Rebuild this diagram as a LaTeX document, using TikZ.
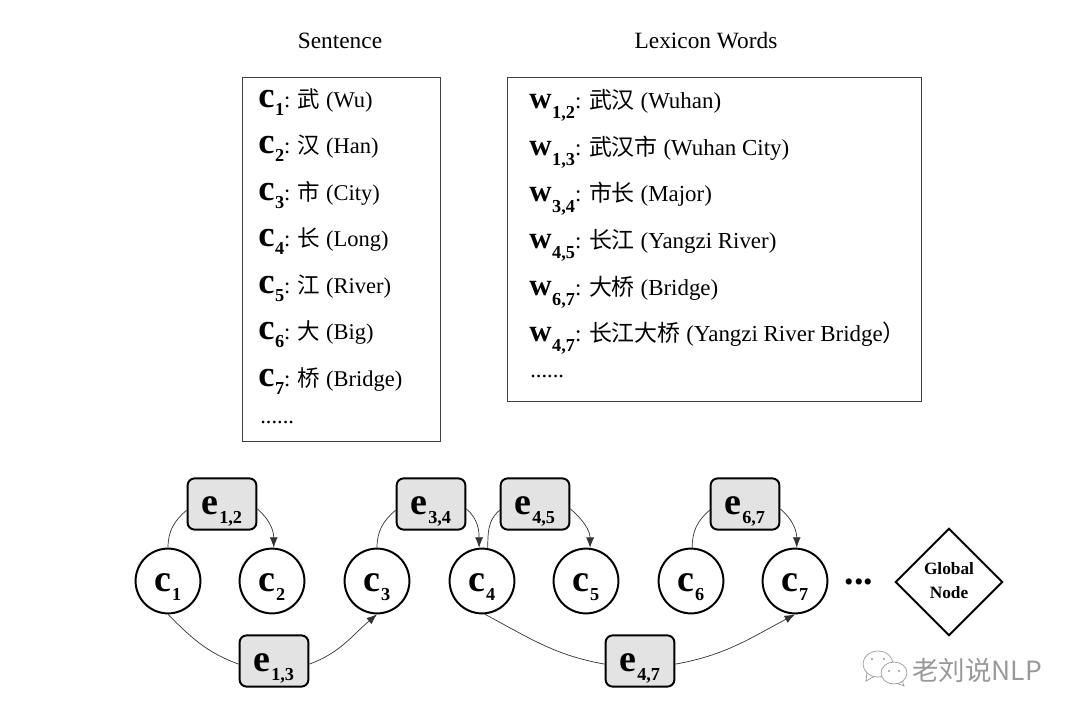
\documentclass[tikz,border=0pt]{standalone}
\usetikzlibrary{shapes.geometric,arrows.meta}
\usepackage{fontspec}
\setmainfont{Liberation Serif}
\newfontfamily\cjk{Noto Sans CJK SC}
\colorlet{edgefill}{black!11}
\colorlet{markgray}{black!40}
\newcommand{\bigsub}[4][6.5pt]{{\fontsize{#4}{#4}\selectfont\bfseries #2}\smash{\raisebox{-#1}{\fontsize{13}{13}\selectfont\bfseries\kern.4pt #3}}}
\newcommand{\listc}[1]{\bigsub[6pt]{c}{#1}{26}}
\newcommand{\listw}[1]{\bigsub[7.5pt]{w}{#1}{22}}
\newcommand{\hz}[1]{{\cjk #1}}
\tikzset{
  title/.style={font=\fontsize{16.6}{16.6}\selectfont},
  entry/.style={anchor=base west, inner sep=0pt, font=\fontsize{16}{16}\selectfont},
  wentry/.style={entry, font=\fontsize{16.3}{16.3}\selectfont},
  listbox/.style={draw=black!75, line width=.7pt},
  charnode/.style={circle, draw, line width=1.4pt, minimum size=1.62cm, inner sep=0pt, text height=15pt, text depth=0pt},
  edgenode/.style={draw, fill=edgefill, rounded corners=5pt, line width=1.4pt, minimum width=1.72cm, minimum height=1.28cm, inner sep=0pt, text height=15pt, text depth=0pt},
  link/.style={black!80, line width=.5pt},
  linkto/.style={black!80, line width=.5pt, -{Latex[length=2.6mm,width=2mm]}}
}
\begin{document}
\begin{tikzpicture}[x=0.025cm,y=-0.025cm]
\useasboundingbox (0,0) rectangle (1080,717);
% headings and the two lists
\node[title] (sent) at (340,41) {Sentence};
\node[title] (lex) at (706,41) {Lexicon Words};
\node[listbox, minimum width=4.95cm, minimum height=9.1cm] (sbox) at (341.5,259.5) {};
\node[listbox, minimum width=10.35cm, minimum height=8.1cm] (wbox) at (714.5,239.5) {};
\node[entry] (s1) at (258,107) {\listc{1}: \hz{武} (Wu)};
\node[entry] (s2) at (258,153.5) {\listc{2}: \hz{汉} (Han)};
\node[entry] (s3) at (258,200) {\listc{3}: \hz{市} (City)};
\node[entry] (s4) at (258,246.5) {\listc{4}: \hz{长} (Long)};
\node[entry] (s5) at (258,293) {\listc{5}: \hz{江} (River)};
\node[entry] (s6) at (258,339.5) {\listc{6}: \hz{大} (Big)};
\node[entry] (s7) at (258,386) {\listc{7}: \hz{桥} (Bridge)};
\node[entry] (s8) at (260,423) {......};
\node[wentry] (w1) at (529,108) {\listw{1,2}: \hz{武汉} (Wuhan)};
\node[wentry] (w2) at (529,155) {\listw{1,3}: \hz{武汉市} (Wuhan City)};
\node[wentry] (w3) at (529,201.5) {\listw{3,4}: \hz{市长} (Major)};
\node[wentry] (w4) at (529,248) {\listw{4,5}: \hz{长江} (Yangzi River)};
\node[wentry] (w5) at (529,295) {\listw{6,7}: \hz{大桥} (Bridge)};
\node[wentry] (w6) at (529,341) {\listw{4,7}: \hz{长江大桥} (Yangzi River Bridge\hz{）}};
\node[entry] (w7) at (530,377) {......};
% character nodes
\node[charnode] (c1) at (168,581) {\bigsub{c}{1}{27}};
\node[charnode] (c2) at (272,581) {\bigsub{c}{2}{27}};
\node[charnode] (c3) at (377,581) {\bigsub{c}{3}{27}};
\node[charnode] (c4) at (482,581) {\bigsub{c}{4}{27}};
\node[charnode] (c5) at (586,581) {\bigsub{c}{5}{27}};
\node[charnode] (c6) at (691,581) {\bigsub{c}{6}{27}};
\node[charnode] (c7) at (795,581) {\bigsub{c}{7}{27}};
% lexicon edge nodes
\node[edgenode] (e12) at (222,504) {\bigsub{e}{1,2}{27}};
\node[edgenode] (e34) at (431,504) {\bigsub{e}{3,4}{27}};
\node[edgenode] (e45) at (535,504) {\bigsub{e}{4,5}{27}};
\node[edgenode] (e67) at (745,504) {\bigsub{e}{6,7}{27}};
\node[edgenode] (e13) at (274,661) {\bigsub{e}{1,3}{27}};
\node[edgenode] (e47) at (640,661) {\bigsub{e}{4,7}{27}};
\node[font=\fontsize{27}{27}\selectfont\bfseries] (dots) at (859,582) {...};
\node[draw, line width=1.4pt, diamond, aspect=1, minimum size=2.68cm, inner sep=0pt, font=\fontsize{12.3}{17}\selectfont\bfseries] (global) at (949,582) {\raisebox{-1.5pt}{\begin{tabular}{@{}c@{}}Global\\Node\end{tabular}}};
% short arcs over the top
\draw[link] (c1.north) to[out=90,in=220] (e12.190);
\draw[linkto] (e12.-8) to[out=-40,in=90] (c2.87);
\draw[link] (c3.north) to[out=90,in=220] (e34.190);
\draw[linkto] (e34.-8) to[out=-40,in=90] (c4.95);
\draw[link] (c4.80) to[out=90,in=220] (e45.190);
\draw[linkto] (e45.-8) to[out=-40,in=90] (c5.83);
\draw[link] (c6.88) to[out=90,in=220] (e67.190);
\draw[linkto] (e67.-8) to[out=-40,in=90] (c7.87);
% long arcs underneath
\draw[link] (c1.south) to[out=-45,in=160] (e13.185);
\draw[linkto] (e13.-5) to[out=20,in=-140] (c3.south);
\draw[link] (c4.-85) to[out=-28,in=170] (e47.185);
\draw[linkto] (e47.-5) to[out=10,in=-152] (c7.south);
% account mark in the corner
\draw[markgray, fill=white, line width=.5pt] (867,672) -- (866,681) -- (875,676);
\draw[markgray, fill=white, line width=.5pt] (878,664) ellipse (15 and 13);
\draw[markgray, fill=white, line width=.5pt] (902,680) -- (904,686) -- (896,683);
\draw[markgray, fill=white, line width=.5pt] (894,673) ellipse (13 and 11);
\fill[markgray] (872,659) circle (1.2) (884,659) circle (1.2) (889,671) circle (1.2) (899,671) circle (1.2);
\node[text=markgray, anchor=west, inner sep=0pt, font=\cjk\fontsize{18.8}{18.8}\selectfont] (mark) at (912,670) {老刘说NLP};
\end{tikzpicture}
\end{document}
